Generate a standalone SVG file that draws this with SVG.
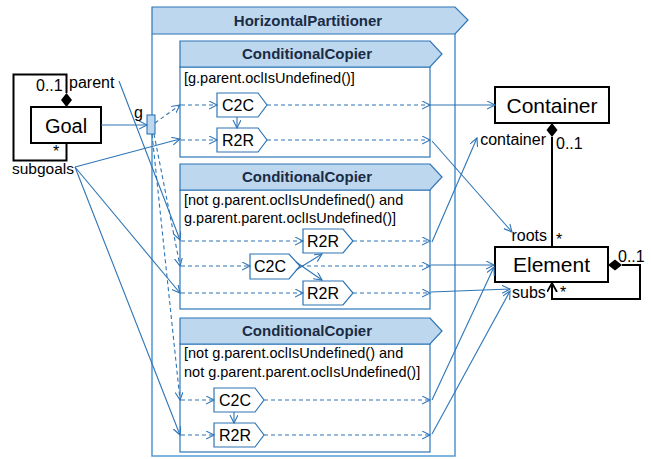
<svg xmlns="http://www.w3.org/2000/svg" width="651" height="459" viewBox="0 0 651 459">
<style>
text{font-family:"Liberation Sans",Arial,sans-serif;fill:#000}
.lbl{font-size:16px}
.cls{font-size:21px;text-anchor:middle}
.hdr{font-size:15px;font-weight:bold;text-anchor:middle;fill:#1a2b45}
.cond{font-size:14.5px}
.op{font-size:16px;text-anchor:middle}
.frame{fill:#fff;stroke:#2e75b6;stroke-width:1.2}
.head{fill:#bdd7ee;stroke:#2e75b6;stroke-width:1.2}
.outer{fill:none;stroke:#5b9bd5;stroke-width:1.6}
.blk{fill:#fff;stroke:#000;stroke-width:2}
.s{fill:none;stroke:#2e75b6;stroke-width:1.1;marker-end:url(#a)}
.d{fill:none;stroke:#2e75b6;stroke-width:1.1;stroke-dasharray:4 3;marker-end:url(#a)}
.bl{fill:none;stroke:#000;stroke-width:2}
</style>
<defs>
<marker id="a" markerUnits="userSpaceOnUse" markerWidth="10" markerHeight="10" refX="8" refY="4" orient="auto">
<path d="M0,0 L8,4 L0,8" fill="none" stroke="#2e75b6" stroke-width="1.1" stroke-dasharray="none"/>
</marker>
<marker id="ab" markerUnits="userSpaceOnUse" markerWidth="12" markerHeight="12" refX="9" refY="5" orient="auto">
<path d="M0,0 L9,5 L0,10" fill="none" stroke="#000" stroke-width="1.8"/>
</marker>
</defs>

<g id="horizontal-partitioner">
<polyline class="outer" points="152,34 152,456 455,456 455,34"/>
<polygon class="head" points="152,7 455,7 468,20 455,34 152,34"/>
<text class="hdr" x="308" y="26">HorizontalPartitioner</text>
</g>

<g id="cc1">
<rect class="frame" x="180" y="67" width="250" height="90"/>
<polygon class="head" points="180,41 430,41 442,54 430,67 180,67"/>
<text class="hdr" x="307" y="59">ConditionalCopier</text>
<text class="cond" x="184" y="83">[g.parent.oclIsUndefined()]</text>
</g>
<g id="cc1-c2c"><polygon class="frame" points="217,93 258,93 267,105 258,117 217,117"/><text class="op" x="238" y="111">C2C</text></g>
<g id="cc1-r2r"><polygon class="frame" points="217,128 258,128 267,140 258,152 217,152"/><text class="op" x="238" y="146">R2R</text></g>

<g id="cc2">
<rect class="frame" x="180" y="190" width="250" height="119"/>
<polygon class="head" points="180,164 430,164 442,177 430,190 180,190"/>
<text class="hdr" x="307" y="182">ConditionalCopier</text>
<text class="cond" x="184" y="205">[not g.parent.oclIsUndefined() and</text>
<text class="cond" x="184" y="223">g.parent.parent.oclIsUndefined()]</text>
</g>
<g id="cc2-r2r-a"><polygon class="frame" points="303,229 343,229 353,241 343,253 303,253"/><text class="op" x="323" y="247">R2R</text></g>
<g id="cc2-c2c"><polygon class="frame" points="250,254 289,254 300,266 289,279 250,279"/><text class="op" x="270" y="272">C2C</text></g>
<g id="cc2-r2r-b"><polygon class="frame" points="303,281 343,281 353,293 343,305 303,305"/><text class="op" x="323" y="299">R2R</text></g>

<g id="cc3">
<rect class="frame" x="180" y="344" width="250" height="108"/>
<polygon class="head" points="180,318 430,318 442,331 430,344 180,344"/>
<text class="hdr" x="307" y="336">ConditionalCopier</text>
<text class="cond" x="184" y="358">[not g.parent.oclIsUndefined() and</text>
<text class="cond" x="184" y="377">not g.parent.parent.oclIsUndefined()]</text>
</g>
<g id="cc3-c2c"><polygon class="frame" points="214,388 255,388 264,400 255,412 214,412"/><text class="op" x="235" y="406">C2C</text></g>
<g id="cc3-r2r"><polygon class="frame" points="214,423 255,423 264,435 255,447 214,447"/><text class="op" x="235" y="441">R2R</text></g>

<g id="goal">
<rect class="blk" x="31" y="107" width="70" height="36"/>
<text class="cls" x="66" y="133" style="font-size:20px">Goal</text>
<polyline class="bl" points="66.5,93 66.5,74.5 13.5,74.5 13.5,160.5 66.5,160.5 66.5,143"/>
<polygon points="66.5,93 72,100 66.5,107 61,100" fill="#000"/>
<text class="lbl" x="36" y="91">0..1</text>
<text class="lbl" x="69" y="88">parent</text>
<text class="lbl" x="53" y="157">*</text>
<text class="lbl" x="12" y="174" style="font-size:15.5px">subgoals</text>
</g>

<g id="port-g">
<rect x="147" y="115" width="8" height="19" fill="#bdd7ee" stroke="#2e75b6" stroke-width="1.1"/>
<text class="lbl" x="134" y="118">g</text>
</g>

<g id="container">
<rect class="blk" x="495" y="87" width="114" height="36"/>
<text class="cls" x="552" y="113">Container</text>
</g>

<g id="element">
<rect class="blk" x="495" y="247" width="113" height="35"/>
<text class="cls" x="551.5" y="272">Element</text>
<line class="bl" x1="552" y1="137" x2="552" y2="247"/>
<polygon points="552,123 557.5,130 552,137 546.5,130" fill="#000"/>
<polyline class="bl" points="622,265 640,265 640,299 552,299 552,283" marker-end="url(#ab)"/>
<polygon points="608,265 615,259.5 622,265 615,270.5" fill="#000"/>
<text class="lbl" x="546" y="145" text-anchor="end">container</text>
<text class="lbl" x="556" y="149">0..1</text>
<text class="lbl" x="547" y="241" text-anchor="end">roots</text>
<text class="lbl" x="556" y="245">*</text>
<text class="lbl" x="618" y="262">0..1</text>
<text class="lbl" x="512" y="298">subs</text>
<text class="lbl" x="560" y="298">*</text>
</g>

<g id="connectors">
<line class="s" x1="101" y1="125" x2="147" y2="125"/>
<line class="s" x1="119" y1="81" x2="180" y2="240"/>
<line class="s" x1="75" y1="167" x2="180" y2="139"/>
<line class="s" x1="75" y1="167" x2="180" y2="293"/>
<line class="s" x1="75" y1="167" x2="180" y2="435"/>
<line class="d" x1="155" y1="123" x2="180" y2="105"/>
<line class="d" x1="154" y1="134" x2="180" y2="266"/>
<line class="d" x1="152" y1="134" x2="180" y2="400"/>

<line class="d" x1="181" y1="105" x2="217" y2="105"/>
<line class="d" x1="181" y1="140" x2="217" y2="140"/>
<line class="s" x1="237" y1="117" x2="237" y2="128"/>
<line class="d" x1="267" y1="105" x2="430" y2="105"/>
<line class="d" x1="267" y1="140" x2="430" y2="140"/>
<line class="s" x1="430" y1="105" x2="495" y2="105"/>
<line class="s" x1="432" y1="141" x2="512" y2="232"/>

<line class="d" x1="181" y1="241" x2="303" y2="241"/>
<line class="d" x1="181" y1="266" x2="250" y2="266"/>
<line class="d" x1="181" y1="293" x2="303" y2="293"/>
<line class="s" x1="296" y1="270" x2="322" y2="254"/>
<line class="s" x1="296" y1="262" x2="322" y2="280"/>
<line class="d" x1="353" y1="241" x2="430" y2="241"/>
<line class="d" x1="300" y1="266" x2="430" y2="266"/>
<line class="d" x1="353" y1="293" x2="430" y2="293"/>
<line class="s" x1="432" y1="242" x2="477" y2="138"/>
<line class="s" x1="431" y1="265" x2="494" y2="265"/>
<line class="s" x1="431" y1="292" x2="510" y2="289"/>

<line class="d" x1="181" y1="400" x2="214" y2="400"/>
<line class="d" x1="181" y1="435" x2="214" y2="435"/>
<line class="s" x1="234" y1="412" x2="234" y2="423"/>
<line class="d" x1="264" y1="400" x2="430" y2="400"/>
<line class="d" x1="264" y1="435" x2="430" y2="435"/>
<line class="s" x1="432" y1="400" x2="494" y2="267"/>
<line class="s" x1="432" y1="434" x2="510" y2="291"/>
</g>
</svg>
